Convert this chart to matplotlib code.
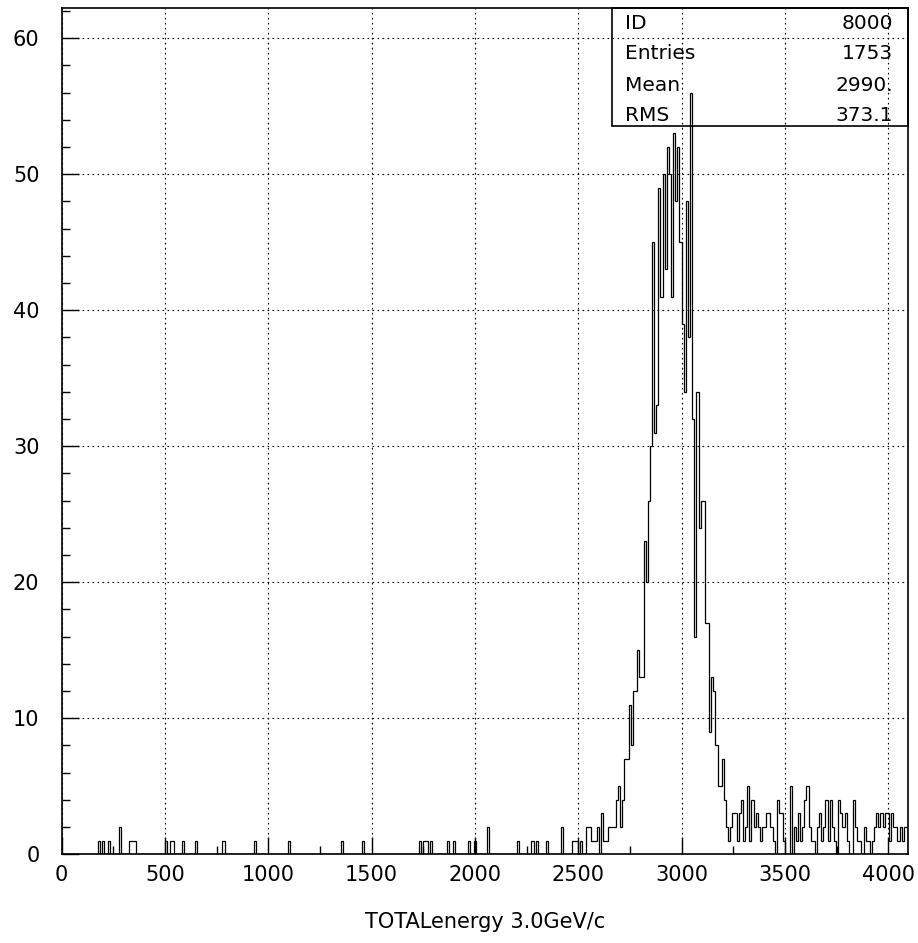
import numpy as np
import matplotlib
matplotlib.use("Agg")
import matplotlib.pyplot as plt
from matplotlib.patches import Rectangle
from matplotlib.ticker import MultipleLocator

# 400 channels over 0..4096
n_bins = 400
x_min, x_max = 0, 4096
y_max = 62.2

# isolated low-energy hits (channel index, count)
low_bins = [17, 19, 22, 27, 32, 33, 34, 49, 51, 52, 57, 63, 76, 91, 107,
            132, 142, 169, 171, 172, 174, 182, 185, 192, 195, 201, 215,
            222, 224, 229]
low_counts = [1, 1, 1, 2, 1, 1, 1, 1, 1, 1, 1, 1, 1, 1, 1,
              1, 1, 1, 1, 1, 1, 1, 1, 1, 1, 2, 1,
              1, 1, 1]

# contiguous counts from channel 236 to the end
core_start = 236
core_counts = [
    2, 0, 0, 0, 0, 1, 1, 1, 0, 1, 0, 0, 2, 2, 1, 1, 1, 2, 0, 3,
    1, 1, 2, 2, 2, 2, 4, 5, 2, 4, 7, 7, 11, 8, 12, 12, 15, 13, 13, 23,
    20, 26, 30, 45, 31, 33, 49, 41, 50, 43, 52, 50, 41, 53, 48, 52, 45, 39, 34, 48,
    38, 56, 32, 16, 34, 24, 26, 26, 17, 17, 9, 13, 12, 8, 5, 5, 7, 4, 2, 1,
    2, 3, 3, 1, 3, 4, 1, 2, 5, 1, 4, 2, 3, 2, 1, 2, 2, 3, 3, 2,
    1, 0, 4, 3, 3, 1, 0, 0, 5, 0, 2, 1, 3, 1, 2, 4, 5, 2, 1, 1,
    0, 2, 3, 1, 2, 4, 1, 4, 2, 1, 0, 4, 3, 2, 3, 1, 0, 0, 4, 2,
    1, 1, 0, 2, 1, 1, 0, 1, 2, 3, 2, 3, 2, 3, 3, 1, 3, 2, 2, 1,
    2, 1, 2, 2,
]

stat_labels = ["ID", "Entries", "Mean", "RMS"]
stat_values = ["8000", "1753", "2990.", "373.1"]
x_title = "TOTALenergy 3.0GeV/c"

counts = np.zeros(n_bins)
counts[low_bins] = low_counts
counts[core_start:core_start + len(core_counts)] = core_counts
edges = np.linspace(x_min, x_max, n_bins + 1)

plt.rcParams["font.family"] = "DejaVu Sans"

fig = plt.figure(figsize=(9.18, 9.43), dpi=100)
ax = fig.add_axes([0.0672, 0.0941, 0.9219, 0.8971])

ax.stairs(counts, edges, color="black", lw=0.9, zorder=3)

ax.set_xlim(x_min, x_max)
ax.set_ylim(0, y_max)

ax.xaxis.set_major_locator(MultipleLocator(500))
ax.xaxis.set_minor_locator(MultipleLocator(250))
ax.yaxis.set_major_locator(MultipleLocator(10))
ax.yaxis.set_minor_locator(MultipleLocator(2))

ax.grid(True, which="major", color="black", linestyle=(0, (1.5, 3)), lw=0.8)

ax.tick_params(which="both", direction="in", top=False, right=False, width=1)
ax.tick_params(which="major", length=12, labelsize=15)
ax.tick_params(which="minor", length=5.5)
ax.tick_params(axis="x", pad=7.5)
ax.tick_params(axis="y", pad=16)

for sp in ax.spines.values():
    sp.set_linewidth(1.2)

# statistics box in the top-right corner
box_x0, box_y0 = 0.6506, 0.8609
ax.add_patch(Rectangle((box_x0, box_y0), 1 - box_x0, 1 - box_y0,
                       transform=ax.transAxes, fill=False, lw=1.2,
                       edgecolor="black", clip_on=False, zorder=5))
row_y = [0.9826, 0.9471, 0.9093, 0.8738]
for lab, val, yy in zip(stat_labels, stat_values, row_y):
    ax.text(0.6656, yy, lab, transform=ax.transAxes, fontsize=14.5,
            ha="left", va="center")
    ax.text(0.9823, yy, val, transform=ax.transAxes, fontsize=14.5,
            ha="right", va="center")

fig.text(0.5282, 1 - 922 / 943, x_title, fontsize=15, ha="center", va="center")

fig.savefig("out.png", dpi=100)
